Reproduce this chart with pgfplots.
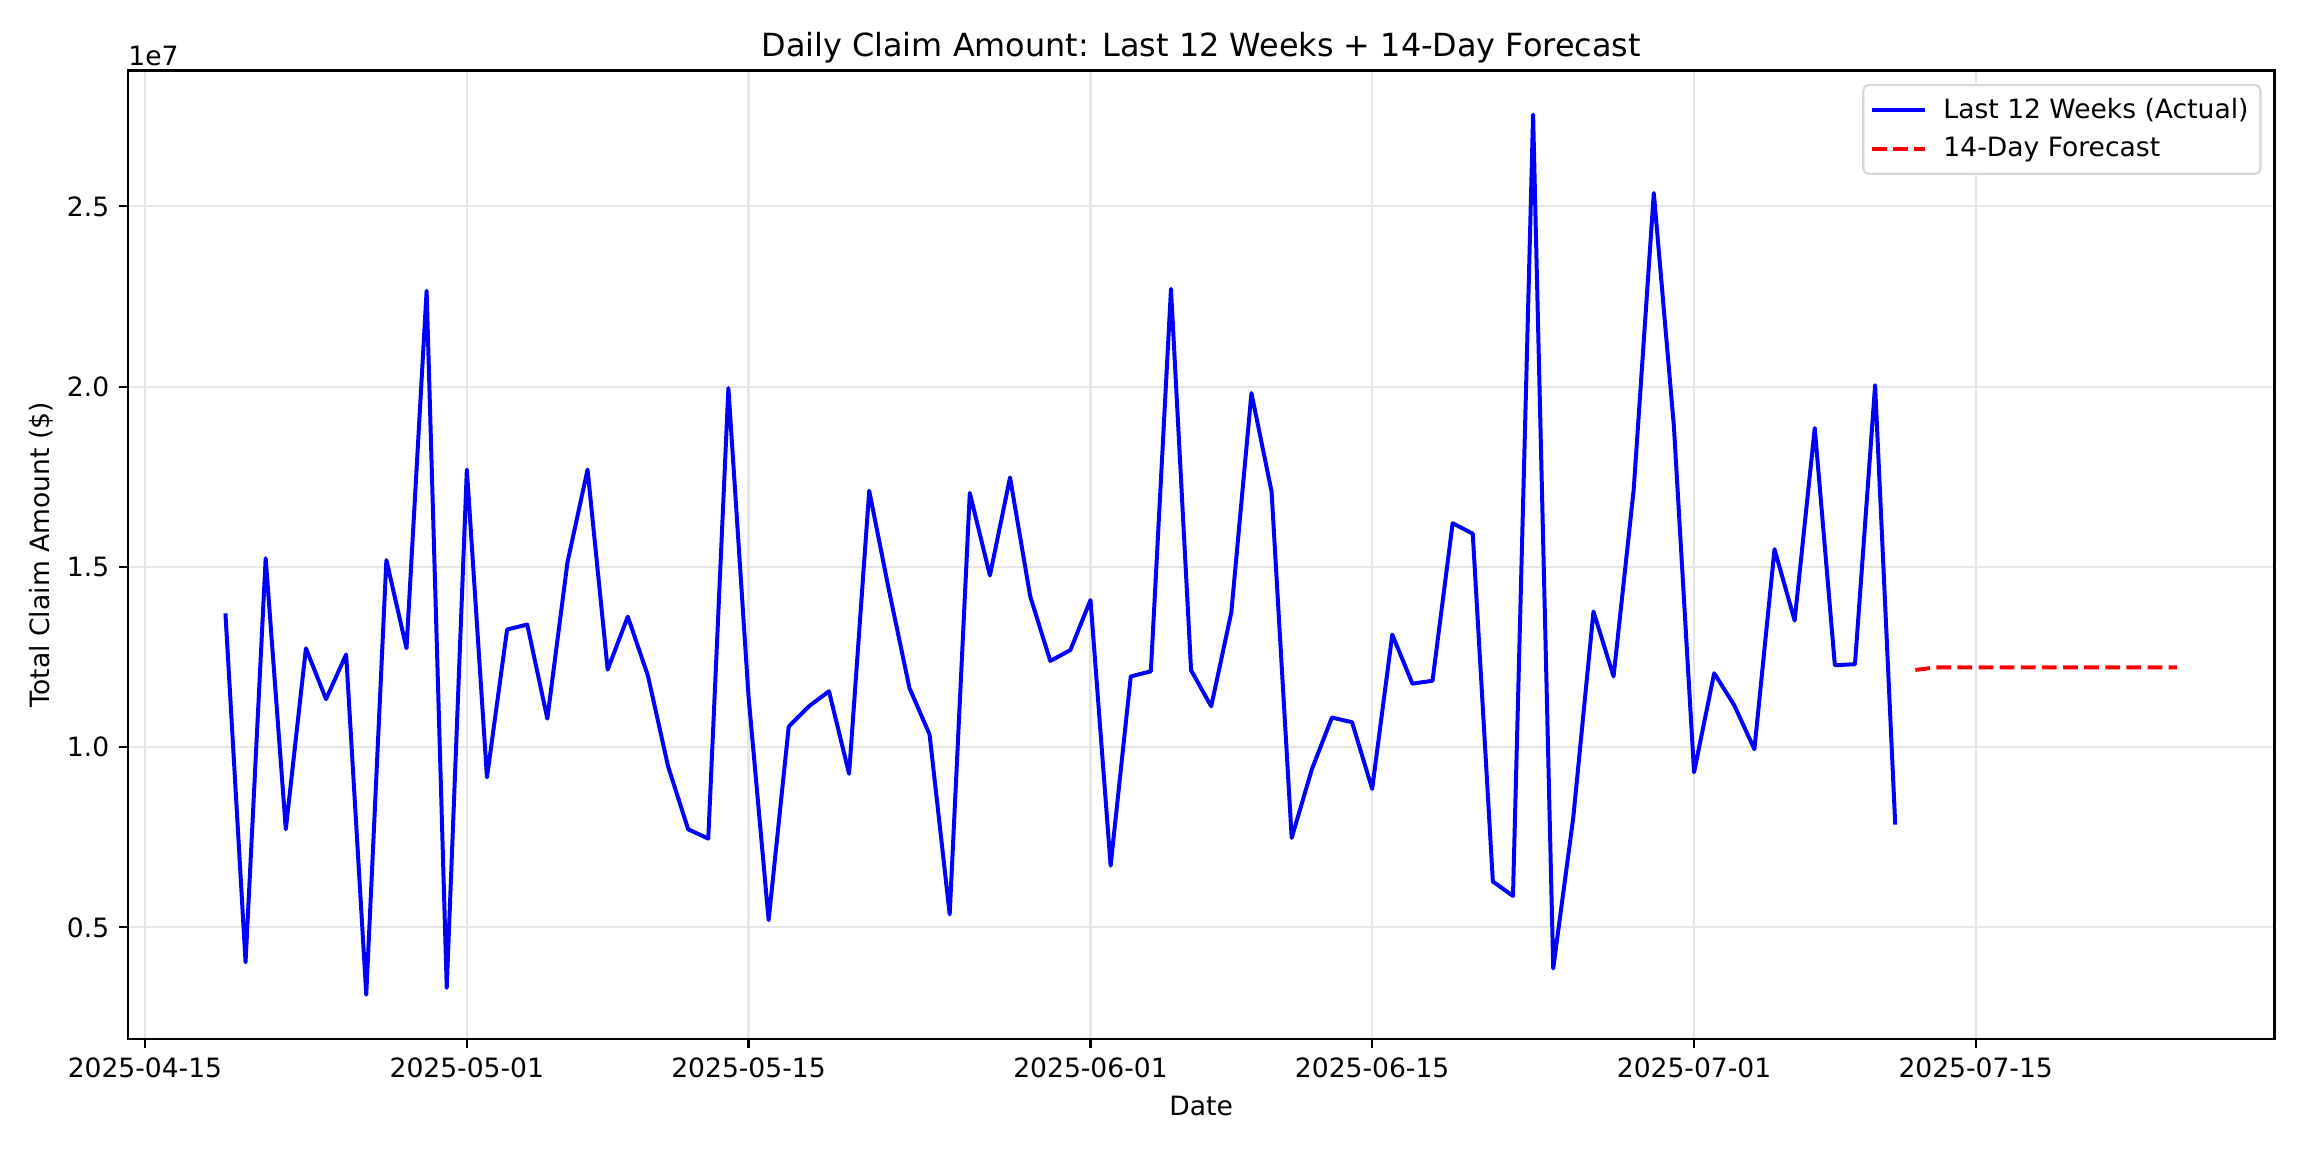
\documentclass[border=0pt]{standalone}
\usepackage{fontspec}
\setmainfont{DejaVu Sans}
\usepackage{pgfplots}
\pgfplotsset{compat=1.18}
\definecolor{gridgray}{HTML}{E6E6E6}
\definecolor{legframe}{HTML}{D6D6D6}
\begin{document}
\begin{tikzpicture}
\path[use as bounding box] (-0.666in,-0.59in) rectangle (11.334in,5.41in);
\begin{axis}[
  at={(0,0)}, anchor=south west,
  scale only axis,
  width=11.18in, height=5.043in,
  xmin=-0.85, xmax=105.85,
  ymin=1910000, ymax=28770000,
  xtick={0,16,30,47,61,77,91},
  xticklabels={2025-04-15,2025-05-01,2025-05-15,2025-06-01,2025-06-15,2025-07-01,2025-07-15},
  ytick={5000000,10000000,15000000,20000000,25000000},
  scaled y ticks=base 10:-7,
  ytick scale label code/.code={1e#1},
  every y tick scale label/.style={at={(rel axis cs:0,1)}, anchor=south west, inner sep=0pt, yshift=1.5pt},
  /pgf/number format/assume math mode=true,
  yticklabel style={/pgf/number format/fixed, /pgf/number format/fixed zerofill, /pgf/number format/precision=1},
  tick label style={font=\fontsize{10}{12}\selectfont},
  label style={font=\fontsize{10}{12}\selectfont},
  xlabel={Date},
  ylabel={Total Claim Amount (\$)},
  ylabel style={yshift=-1.6pt},
  title={Daily Claim Amount: Last 12 Weeks + 14-Day Forecast},
  title style={at={(rel axis cs:0.5,1)}, anchor=south, font=\fontsize{12}{14}\selectfont, inner sep=0pt, yshift=-3.4pt},
  grid=major,
  major grid style={gridgray, line width=0.8pt},
  axis line style={black, line width=0.8pt},
  tick style={black, line width=0.8pt},
  major tick length=3.5pt,
  tick align=outside,
  xtick pos=bottom, ytick pos=left,
  legend style={at={(0.994,0.986)}, anchor=north east, draw=legframe, rounded corners=2pt, line width=0.8pt, fill=white, font=\fontsize{10}{12}\selectfont, inner xsep=2.5pt, inner ysep=3pt, row sep=1.5pt, cells={anchor=west}},
  legend image code/.code={\draw[#1] (0cm,0cm) -- (0.7cm,0cm); \path (0.85cm,0cm);},
]
\addplot[blue, line width=1.5pt, line join=round] coordinates {
(4,13710000) (5,4030000) (6,15240000) (7,7720000) (8,12740000) (9,11330000) (10,12570000)
(11,3130000) (12,15190000) (13,12740000) (14,22660000) (15,3320000) (16,17700000) (17,9160000)
(18,13260000) (19,13400000) (20,10790000) (21,15120000) (22,17700000) (23,12150000) (24,13620000)
(25,11980000) (26,9470000) (27,7720000) (28,7460000) (29,19960000) (30,11420000) (31,5200000)
(32,10570000) (33,11130000) (34,11550000) (35,9260000) (36,17110000) (37,14300000) (38,11640000)
(39,10350000) (40,5360000) (41,17050000) (42,14760000) (43,17480000) (44,14190000) (45,12390000)
(46,12690000) (47,14080000) (48,6710000) (49,11960000) (50,12100000) (51,22710000) (52,12130000)
(53,11130000) (54,13740000) (55,19820000) (56,17090000) (57,7480000) (58,9380000) (59,10820000)
(60,10690000) (61,8840000) (62,13120000) (63,11760000) (64,11840000) (65,16210000) (66,15920000)
(67,6270000) (68,5870000) (69,27550000) (70,3860000) (71,8060000) (72,13760000) (73,11960000)
(74,17140000) (75,25370000) (76,18890000) (77,9300000) (78,12050000) (79,11160000) (80,9940000)
(81,15490000) (82,13510000) (83,18850000) (84,12270000) (85,12300000) (86,20040000) (87,7850000)
};
\addlegendentry{Last 12 Weeks (Actual)}
\addplot[red, line width=1.5pt, dash pattern=on 5.55pt off 2.4pt] coordinates {
(88,12140000) (89,12210000) (90,12210000) (91,12210000) (92,12210000) (93,12210000) (94,12210000)
(95,12210000) (96,12210000) (97,12210000) (98,12210000) (99,12210000) (100,12210000) (101,12210000)
};
\addlegendentry{14-Day Forecast}
\end{axis}
\end{tikzpicture}
\end{document}
